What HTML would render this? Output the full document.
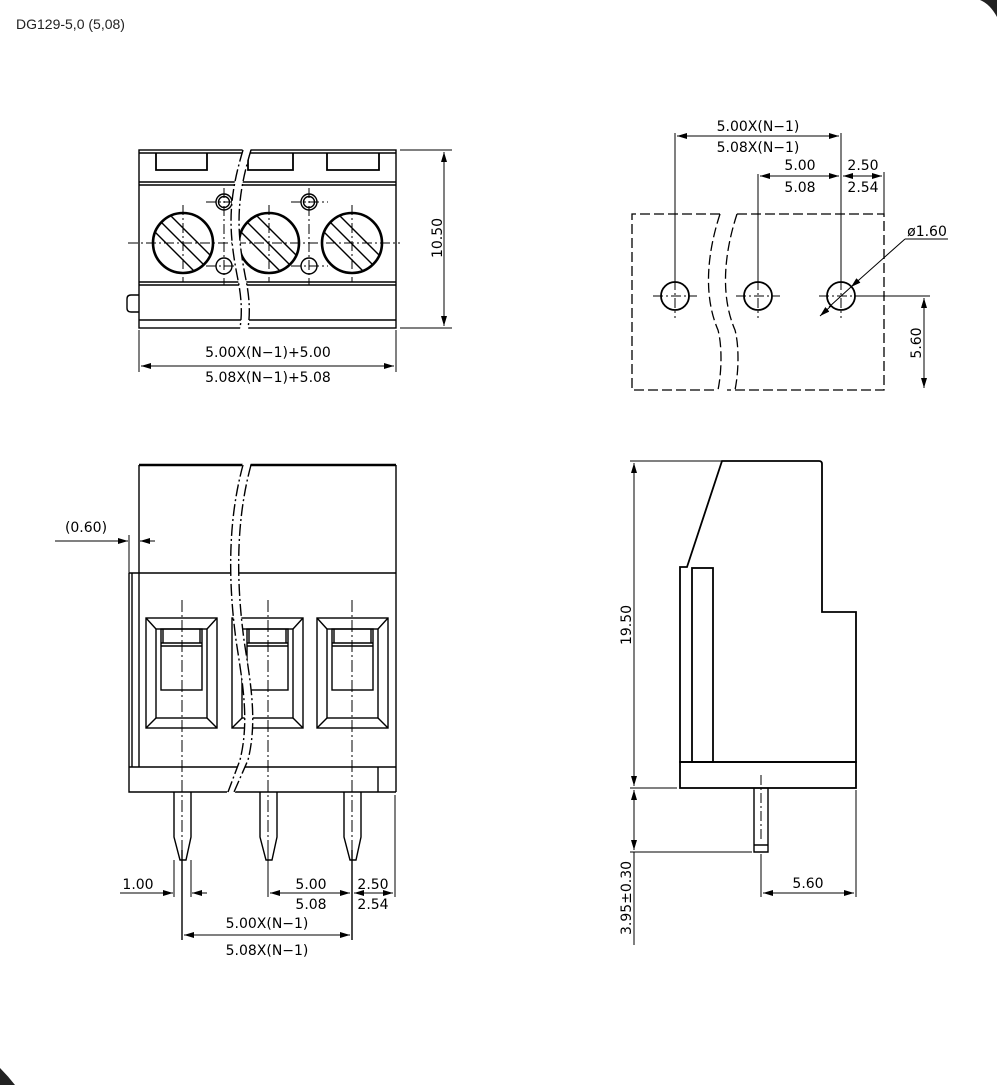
<!DOCTYPE html>
<html><head><meta charset="utf-8"><style>
html,body{margin:0;padding:0;background:#fff;}
svg{display:block;}
text{font-family:"DejaVu Sans","Liberation Sans",sans-serif;font-size:14px;fill:#000;}
</style></head><body>
<svg width="997" height="1085" viewBox="0 0 997 1085" xmlns="http://www.w3.org/2000/svg">
<defs>
<marker id="a" viewBox="0 0 10 6" refX="10" refY="3" markerWidth="10" markerHeight="6" orient="auto-start-reverse" markerUnits="userSpaceOnUse"><path d="M0,0 L10,3 L0,6 z" fill="#000"/></marker>
<clipPath id="c1"><circle cx="183" cy="243" r="29"/></clipPath>
<clipPath id="c2"><circle cx="269" cy="243" r="29"/></clipPath>
<clipPath id="c3"><circle cx="352" cy="243" r="29"/></clipPath>
</defs>
<path d="M980,0 L997,0 L997,17 Q990,4 980,0 z" fill="#222"/>
<path d="M0,1068 Q8,1076 15,1085 L0,1085 z" fill="#222"/>
<text x="16" y="29" style="font-family:'Liberation Sans',sans-serif;font-size:14px;fill:#222">DG129-5,0 (5,08)</text>

<g fill="none" stroke="#000" stroke-width="1.4">
<rect x="139" y="150" width="257" height="178"/>
<line x1="139" y1="153" x2="396" y2="153"/>
<path d="M156,153 V170 H207 V153 M248,153 V170 H293 V153 M327,153 V170 H379 V153" stroke-width="1.8"/>
<line x1="139" y1="182" x2="396" y2="182"/><line x1="139" y1="185" x2="396" y2="185"/>
<line x1="139" y1="282" x2="396" y2="282"/><line x1="139" y1="285" x2="396" y2="285"/>
<line x1="139" y1="320" x2="396" y2="320"/>
<path d="M139,295 H131 Q127,295 127,299 V308 Q127,312 131,312 H139"/>
<g stroke-width="1.4">
<g clip-path="url(#c1)"><line x1="150" y1="211" x2="215" y2="276"/><line x1="160" y1="205" x2="222" y2="267"/><line x1="145" y1="222" x2="206" y2="283"/></g>
<g clip-path="url(#c2)"><line x1="236" y1="211" x2="301" y2="276"/><line x1="246" y1="205" x2="308" y2="267"/><line x1="231" y1="222" x2="292" y2="283"/></g>
<g clip-path="url(#c3)"><line x1="319" y1="211" x2="384" y2="276"/><line x1="329" y1="205" x2="391" y2="267"/><line x1="314" y1="222" x2="375" y2="283"/></g>
</g>
<g stroke-width="2.6">
<circle cx="183" cy="243" r="30"/><circle cx="269" cy="243" r="30"/><circle cx="352" cy="243" r="30"/>
</g>
<circle cx="224" cy="202" r="8"/><circle cx="224" cy="202" r="5.5"/>
<circle cx="309" cy="202" r="8"/><circle cx="309" cy="202" r="5.5"/>
<circle cx="224" cy="266" r="8"/><circle cx="309" cy="266" r="8"/>
<g stroke-width="1" stroke-dasharray="10,3,2,3">
<line x1="128" y1="243" x2="400" y2="243"/>
<line x1="183" y1="205" x2="183" y2="282"/><line x1="269" y1="205" x2="269" y2="282"/><line x1="352" y1="205" x2="352" y2="282"/>
<line x1="206" y1="202" x2="242" y2="202"/><line x1="291" y1="202" x2="328" y2="202"/>
<line x1="206" y1="266" x2="242" y2="266"/><line x1="291" y1="266" x2="328" y2="266"/>
<line x1="224" y1="188" x2="224" y2="285"/><line x1="309" y1="188" x2="309" y2="285"/>
</g>
<path d="M243,148 C228,200 228,230 238,280 C242,300 242,315 240,330 L248,330 C250,315 250,300 246,280 C236,230 236,200 251,148 z" fill="#fff" stroke="none"/>
<path d="M243,150 C228,200 228,230 238,280 C242,300 242,315 240,328" stroke-dasharray="12,3,2,3"/>
<path d="M251,150 C236,200 236,230 246,280 C250,300 250,315 248,328" stroke-dasharray="12,3,2,3"/>
<g stroke-width="1">
<line x1="400" y1="150" x2="452" y2="150"/><line x1="400" y1="328" x2="452" y2="328"/>
<line x1="444" y1="152" x2="444" y2="326" marker-start="url(#a)" marker-end="url(#a)"/>
<line x1="139" y1="330" x2="139" y2="372"/><line x1="396" y1="330" x2="396" y2="372"/>
<line x1="141" y1="366" x2="394" y2="366" marker-start="url(#a)" marker-end="url(#a)"/>
</g>
</g>
<text x="268" y="357" text-anchor="middle">5.00X(N−1)+5.00</text>
<text x="268" y="382" text-anchor="middle">5.08X(N−1)+5.08</text>
<text transform="translate(442,238) rotate(-90)" text-anchor="middle">10.50</text>

<g fill="none" stroke="#000" stroke-width="1.3">
<g stroke-dasharray="10,4">
<path d="M720,214 H632 V390 H718"/>
<path d="M737,214 H884 V390 H727"/>
<path d="M720,214 C705,260 705,300 718,330 C722,345 722,370 718,390"/>
<path d="M737,214 C722,260 722,300 735,330 C739,345 739,370 735,390"/>
</g>
<circle cx="675" cy="296" r="14" stroke-width="1.8"/><circle cx="758" cy="296" r="14" stroke-width="1.8"/><circle cx="841" cy="296" r="14" stroke-width="1.8"/>
<g stroke-width="1" stroke-dasharray="10,3,2,3">
<line x1="653" y1="296" x2="697" y2="296"/><line x1="736" y1="296" x2="780" y2="296"/><line x1="819" y1="296" x2="856" y2="296"/>
<line x1="675" y1="280" x2="675" y2="318"/><line x1="758" y1="280" x2="758" y2="318"/><line x1="841" y1="280" x2="841" y2="318"/>
</g>
<g stroke-width="1">
<line x1="675" y1="133" x2="675" y2="282"/><line x1="758" y1="174" x2="758" y2="282"/><line x1="841" y1="133" x2="841" y2="282"/>
<line x1="884" y1="172" x2="884" y2="214"/>
<line x1="677" y1="136" x2="839" y2="136" marker-start="url(#a)" marker-end="url(#a)"/>
<line x1="760" y1="176" x2="839" y2="176" marker-start="url(#a)" marker-end="url(#a)"/>
<line x1="843" y1="176" x2="882" y2="176" marker-start="url(#a)" marker-end="url(#a)"/>
<line x1="820" y1="316" x2="831" y2="306" marker-start="url(#a)"/>
<line x1="829" y1="307" x2="851" y2="287"/>
<line x1="851" y1="287" x2="905" y2="239" marker-start="url(#a)"/>
<line x1="905" y1="239" x2="948" y2="239"/>
<line x1="856" y1="296" x2="930" y2="296"/>
<line x1="924" y1="298" x2="924" y2="388" marker-start="url(#a)" marker-end="url(#a)"/>
</g>
</g>
<text x="758" y="131" text-anchor="middle">5.00X(N−1)</text>
<text x="758" y="152" text-anchor="middle">5.08X(N−1)</text>
<text x="800" y="170" text-anchor="middle">5.00</text>
<text x="800" y="192" text-anchor="middle">5.08</text>
<text x="863" y="170" text-anchor="middle">2.50</text>
<text x="863" y="192" text-anchor="middle">2.54</text>
<text x="927" y="236" text-anchor="middle">ø1.60</text>
<text transform="translate(921,343) rotate(-90)" text-anchor="middle">5.60</text>

<g fill="none" stroke="#000" stroke-width="1.4">
<path d="M139,465 H396" stroke-width="2.6"/>
<path d="M139,465 V767 M396,465 V792"/>
<line x1="129" y1="573" x2="396" y2="573"/>
<path d="M129,573 V792 H396"/>
<line x1="132" y1="573" x2="132" y2="767"/>
<line x1="129" y1="767" x2="396" y2="767"/>
<line x1="378" y1="767" x2="378" y2="792"/>
<g id="w">
<rect x="146" y="618" width="71" height="110"/>
<rect x="156" y="629" width="51" height="89"/>
<line x1="146" y1="618" x2="156" y2="629"/><line x1="217" y1="618" x2="207" y2="629"/>
<line x1="146" y1="728" x2="156" y2="718"/><line x1="217" y1="728" x2="207" y2="718"/>
<rect x="161" y="629" width="41" height="61"/>
<line x1="161" y1="643" x2="202" y2="643"/><line x1="161" y1="646" x2="202" y2="646"/>
<line x1="163" y1="629" x2="163" y2="643"/><line x1="200" y1="629" x2="200" y2="643"/>
</g>
<use href="#w" x="86"/>
<use href="#w" x="171"/>
<g id="p"><path d="M174,792 V837 L180,860 H186 L191,837 V792"/></g>
<use href="#p" x="86"/><use href="#p" x="170"/>
<g stroke-width="1" stroke-dasharray="12,3,2,3">
<line x1="182" y1="600" x2="182" y2="850"/><line x1="268" y1="600" x2="268" y2="850"/><line x1="352" y1="600" x2="352" y2="850"/>
</g>
<path d="M243,462 C228,520 228,580 236,640 C242,680 250,720 240,760 L226,795 L234,795 L248,760 C258,720 250,680 244,640 C236,580 236,520 251,462 z" fill="#fff" stroke="none"/>
<path d="M243,465 C228,520 228,580 236,640 C242,680 250,720 240,760 L228,792" stroke-dasharray="12,3,2,3"/>
<path d="M251,465 C236,520 236,580 244,640 C250,680 258,720 248,760 L234,792" stroke-dasharray="12,3,2,3"/>
<g stroke-width="1">
<line x1="129" y1="535" x2="129" y2="573"/>
<line x1="55" y1="541" x2="128" y2="541" marker-end="url(#a)"/>
<line x1="155" y1="541" x2="140" y2="541" marker-end="url(#a)"/>
<line x1="174" y1="860" x2="174" y2="897"/><line x1="191" y1="860" x2="191" y2="897"/>
<line x1="182" y1="850" x2="182" y2="940" stroke-width="1.4"/>
<line x1="268" y1="850" x2="268" y2="897"/><line x1="352" y1="850" x2="352" y2="940" stroke-width="1.4"/>
<line x1="395" y1="795" x2="395" y2="897"/>
<line x1="120" y1="893" x2="173" y2="893" marker-end="url(#a)"/>
<line x1="207" y1="893" x2="192" y2="893" marker-end="url(#a)"/>
<line x1="270" y1="893" x2="350" y2="893" marker-start="url(#a)" marker-end="url(#a)"/>
<line x1="354" y1="893" x2="393" y2="893" marker-start="url(#a)" marker-end="url(#a)"/>
<line x1="184" y1="935" x2="350" y2="935" marker-start="url(#a)" marker-end="url(#a)"/>
</g>
</g>
<text x="86" y="532" text-anchor="middle">(0.60)</text>
<text x="138" y="889" text-anchor="middle">1.00</text>
<text x="311" y="889" text-anchor="middle">5.00</text>
<text x="311" y="909" text-anchor="middle">5.08</text>
<text x="373" y="889" text-anchor="middle">2.50</text>
<text x="373" y="909" text-anchor="middle">2.54</text>
<text x="267" y="928" text-anchor="middle">5.00X(N−1)</text>
<text x="267" y="955" text-anchor="middle">5.08X(N−1)</text>

<g fill="none" stroke="#000" stroke-width="1.8">
<path d="M722,461 H819 Q822,461 822,464 V612 H856 V762 H680 V567 H687 L722,461 z"/>
<rect x="692" y="568" width="21" height="194"/>
<rect x="680" y="762" width="176" height="26"/>
<path d="M754,788 V852 H768 V788 M754,845 H768" stroke-width="1.4"/>
<line x1="761" y1="775" x2="761" y2="840" stroke-width="1" stroke-dasharray="10,3,2,3"/>
<g stroke-width="1">
<line x1="630" y1="461" x2="722" y2="461"/>
<line x1="630" y1="788" x2="677" y2="788"/>
<line x1="630" y1="852" x2="752" y2="852"/>
<line x1="634" y1="463" x2="634" y2="786" marker-start="url(#a)" marker-end="url(#a)"/>
<line x1="634" y1="790" x2="634" y2="850" marker-start="url(#a)" marker-end="url(#a)"/>
<line x1="634" y1="852" x2="634" y2="945"/>
<line x1="761" y1="854" x2="761" y2="897"/><line x1="856" y1="790" x2="856" y2="897"/>
<line x1="763" y1="893" x2="854" y2="893" marker-start="url(#a)" marker-end="url(#a)"/>
</g>
</g>
<text transform="translate(631,625) rotate(-90)" text-anchor="middle">19.50</text>
<text transform="translate(631,898) rotate(-90)" text-anchor="middle">3.95±0.30</text>
<text x="808" y="888" text-anchor="middle">5.60</text>
</svg>
</body></html>
